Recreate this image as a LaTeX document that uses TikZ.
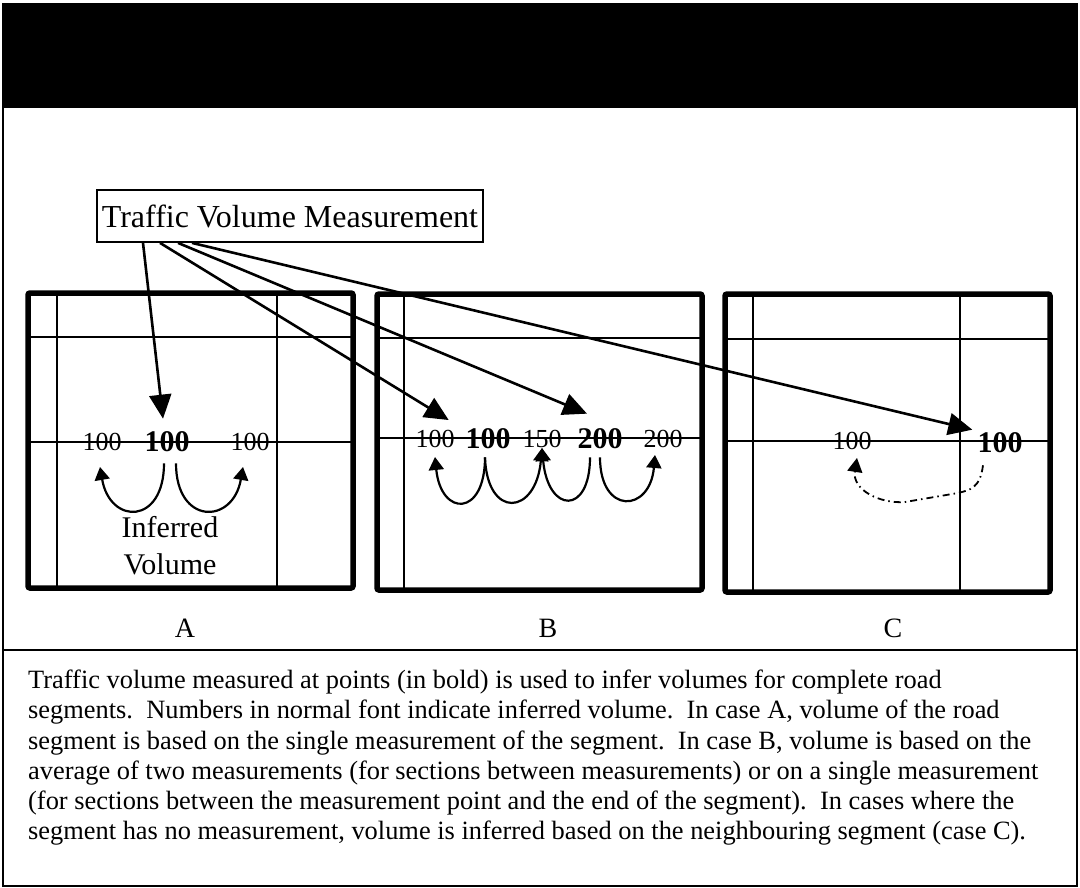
\documentclass[tikz,border=0pt]{standalone}
\usepackage{fontspec}
\setmainfont{Liberation Serif}
\usetikzlibrary{arrows.meta}
\begin{document}
\begin{tikzpicture}[x=1pt,y=-1pt,
  panel/.style={line width=5.5pt, rounded corners=2pt},
  street/.style={line width=2.2pt},
  frameline/.style={line width=2.5pt},
  pointer/.style={line width=2.6pt, -{Triangle[length=24pt,width=22pt]}},
  infer/.style={line width=2.2pt, -{Triangle[length=13pt,width=15pt]}},
  guess/.style={line width=1.8pt, dash pattern=on 7pt off 4pt on 1.5pt off 4pt, -{Triangle[length=14pt,width=15pt]}},
  inf/.style={inner sep=0pt, font=\fontsize{26}{26}\selectfont},
  meas/.style={inner sep=0pt, font=\fontsize{30}{30}\selectfont\bfseries},
  caselabel/.style={inner sep=0pt, font=\fontsize{28}{28}\selectfont},
]
\useasboundingbox[fill=white] (0,0) rectangle (1080,888);

% title bar and outer frame
\fill (2,3) rectangle (1078,108);
\draw[frameline] (3,108) -- (3,886) -- (1077,886) -- (1077,108);
\draw[frameline] (3,650) -- (1077,650);

% panel A: streets and border
\draw[street] (57,293) -- (57,588) (277,293) -- (277,588)
  (28,337) -- (353,337) (28,442) -- (353,442);
\draw[panel] (28,293) rectangle (353,588);

% panel B
\draw[street] (404,294) -- (404,590) (377,338) -- (702,338) (377,438) -- (702,438);
\draw[panel] (377,294) rectangle (702,590);

% panel C
\draw[street] (753,294) -- (753,592) (960,294) -- (960,592)
  (725,339) -- (1050,339) (725,441) -- (1050,441);
\draw[panel] (725,294) rectangle (1050,592);

% volumes on the roads
\node[inf]  (a1) at (102,442) {100};
\node[meas] (a2) at (167,442) {100};
\node[inf]  (a3) at (250,442) {100};

\node[inf]  (b1) at (435,439) {100};
\node[meas] (b2) at (488,439) {100};
\node[inf]  (b3) at (542,439) {150};
\node[meas] (b4) at (600,439) {200};
\node[inf]  (b5) at (663,439) {200};

\node[inf]  (c1) at (852,441) {100};
\node[meas] (c2) at (1000,443) {100};

% measurement label box
\node[draw, line width=1.8pt, minimum width=386pt, minimum height=52pt, inner sep=0pt,
  font=\fontsize{32}{32}\selectfont] (tvm) at (290,216) {Traffic Volume Measurement};

\coordinate (sA)  at ([xshift=-147pt]tvm.south);
\coordinate (sB1) at ([xshift=-130pt]tvm.south);
\coordinate (sB2) at ([xshift=-112pt]tvm.south);
\coordinate (sC)  at ([xshift=-98pt]tvm.south);

\draw[pointer] (sA)  -- ([xshift=-4pt,yshift=13pt]a2.north);
\draw[pointer] (sB1) -- ([xshift=-6pt,yshift=10pt]b1.north east);
\draw[pointer] (sB2) -- ([xshift=-13pt,yshift=15pt]b4.north);
\draw[pointer] (sC)  -- ([xshift=-5pt,yshift=3pt]c2.north west);

% inferred volume arrows, case A
\draw[infer] ([xshift=-3pt,yshift=-11pt]a2.south) .. controls +(0,62) and +(10,58) .. ([xshift=-2pt,yshift=-16pt]a1.south);
\draw[infer] ([xshift=9pt,yshift=-11pt]a2.south) .. controls +(0,62) and +(-10,58) .. ([xshift=-7pt,yshift=-16pt]a3.south);

\node[inner sep=0pt, align=center, font=\fontsize{30}{37}\selectfont] (iv) at (170,546) {Inferred\\Volume};

% inferred volume arrows, case B
\draw[infer] ([xshift=-3pt,yshift=-8pt]b2.south) .. controls +(0,60) and +(6,60) .. ([yshift=-9pt]b1.south);
\draw[infer] ([xshift=-3pt,yshift=-8pt]b2.south) .. controls +(2,62) and +(-6,68) .. ([yshift=0pt]b3.south);
\draw[infer] ([xshift=-10pt,yshift=-8pt]b4.south) .. controls +(0,58) and +(6,66) .. ([yshift=0pt]b3.south);
\draw[infer] ([yshift=-8pt]b4.south) .. controls +(0,58) and +(-5,58) .. ([xshift=-8pt,yshift=-7pt]b5.south);

% case C: volume carried over from the neighbouring segment
\draw[guess] ([xshift=-17pt,yshift=-12pt]c2.south) .. controls +(-3,23) and +(12,-3) .. (958,493)
  -- (905,502) .. controls +(-25,2) and +(-5,32) .. ([xshift=5pt,yshift=-8pt]c1.south);

% case labels
\node[caselabel] (la) at (185,628) {A};
\node[caselabel] (lb) at (548,628) {B};
\node[caselabel] (lc) at (893,628) {C};

% caption
\node[anchor=north west, align=left, inner sep=0pt, font=\fontsize{26.4}{30.2}\selectfont] (cap) at (28,670)
{Traffic volume measured at points (in bold) is used to infer volumes for complete road\\
segments.\ \ Numbers in normal font indicate inferred volume.\ \ In case A, volume of the road\\
segment is based on the single measurement of the segment.\ \ In case B, volume is based on the\\
average of two measurements (for sections between measurements) or on a single measurement\\
(for sections between the measurement point and the end of the segment).\ \ In cases where the\\
segment has no measurement, volume is inferred based on the neighbouring segment (case C).};
\end{tikzpicture}
\end{document}
